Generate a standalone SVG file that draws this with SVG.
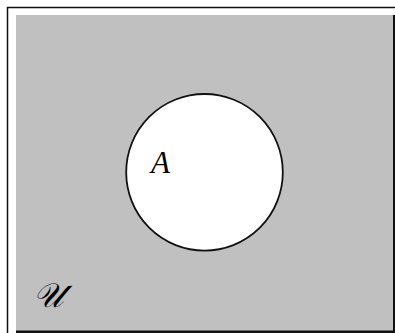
<svg xmlns="http://www.w3.org/2000/svg" width="395" height="333" viewBox="0 0 395 333">
  <style>
    .lbl { font-family: "Liberation Serif", "DejaVu Serif", serif; font-style: italic; fill: #000; }
  </style>
  <rect x="0" y="0" width="395" height="333" fill="#ffffff"/>
  <g id="frame">
    <path d="M7.5,333 V7.5 H395" fill="none" stroke="#111" stroke-width="1.5"/>
    <rect x="16" y="15" width="377" height="316" fill="#c0c0c0"/>
    <rect x="393" y="15" width="2" height="318" fill="#111"/>
    <rect x="16" y="330.5" width="379" height="2.5" fill="#111"/>
  </g>
  <g id="universe">
    <text class="lbl" x="33" y="307" font-size="34">𝒰</text>
  </g>
  <g id="setA">
    <circle cx="204.5" cy="172.3" r="78.3" fill="#ffffff" stroke="#111" stroke-width="1.8"/>
    <text class="lbl" x="151" y="173" font-size="31">A</text>
  </g>
</svg>
